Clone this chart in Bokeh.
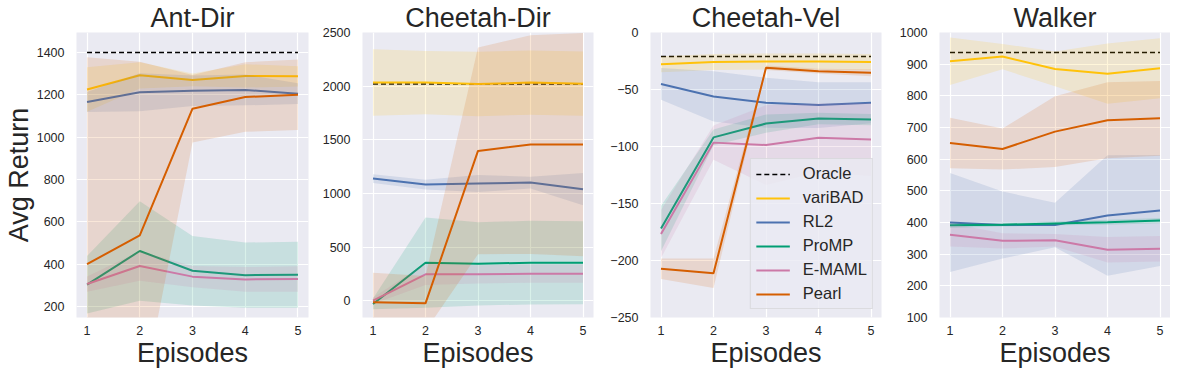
import numpy as np
from bokeh.plotting import figure
from bokeh.models import Range1d, Legend, LegendItem
from bokeh.layouts import row
from bokeh.embed import file_html
from bokeh.resources import INLINE

# ---------------- data ----------------
episodes = [1, 2, 3, 4, 5]
methods = ["variBAD", "RL2", "ProMP", "E-MAML", "Pearl"]

titles = ["Ant-Dir", "Cheetah-Dir", "Cheetah-Vel", "Walker"]

oracle_ant = 1400
oracle_cdir = 2020
oracle_cvel = -21
oracle_walker = 937

ant_varibad = [1225, 1292, 1270, 1289, 1287]
ant_varibad_std = [105, 62, 30, 55, 48]
ant_rl2 = [1166, 1212, 1219, 1223, 1205]
ant_rl2_std = [47, 90, 72, 73, 49]
ant_promp = [303, 462, 369, 348, 350]
ant_promp_std = [136, 235, 164, 154, 156]
ant_emaml = [306, 391, 341, 328, 330]
ant_emaml_std = [36, 70, 50, 58, 60]
ant_pearl = [400, 536, 1134, 1189, 1200]
ant_pearl_std = [977, 820, 159, 164, 167]

cdir_varibad = [2033, 2033, 2020, 2033, 2023]
cdir_varibad_std = [310, 295, 300, 300, 300]
cdir_rl2 = [1138, 1082, 1092, 1101, 1039]
cdir_rl2_std = [40, 45, 80, 55, 150]
cdir_promp = [-31, 354, 344, 354, 354]
cdir_promp_std = [50, 421, 388, 390, 387]
cdir_emaml = [0, 246, 246, 252, 252]
cdir_emaml_std = [30, 100, 85, 85, 85]
cdir_pearl = [-15, -25, 1396, 1455, 1455]
cdir_pearl_std = [276, 256, 963, 1020, 1040]

cvel_varibad = [-27.8, -25.8, -25.5, -25.5, -25.8]
cvel_varibad_std = [7, 7, 7, 7, 7]
cvel_rl2 = [-45.1, -56.1, -61.6, -63.7, -61.6]
cvel_rl2_std = [14, 22, 22, 20, 18]
cvel_promp = [-171.9, -92.0, -79.9, -75.5, -76.4]
cvel_promp_std = [20, 7, 8, 5, 5]
cvel_emaml = [-176.8, -96.6, -98.7, -92.3, -93.8]
cvel_emaml_std = [21, 15, 35, 30, 32]
cvel_pearl = [-207.2, -211.2, -31.0, -33.9, -35.3]
cvel_pearl_std = [9, 13, 2, 2, 3]

walker_varibad = [909, 924, 885, 870, 887]
walker_varibad_std = [75, 40, 55, 95, 95]
walker_rl2 = [400, 392, 392, 422, 438]
walker_rl2_std = [156, 106, 70, 190, 175]
walker_promp = [391, 393, 397, 401, 406]
walker_promp_std = [8, 6, 6, 8, 8]
walker_emaml = [361, 342, 344, 314, 317]
walker_emaml_std = [37, 24, 20, 40, 40]
walker_pearl = [651, 632, 687, 723, 729]
walker_pearl_std = [80, 65, 112, 120, 118]

ant_yticks = [200, 400, 600, 800, 1000, 1200, 1400]
cdir_yticks = [0, 500, 1000, 1500, 2000, 2500]
cvel_yticks = [-250, -200, -150, -100, -50, 0]
walker_yticks = [100, 200, 300, 400, 500, 600, 700, 800, 900, 1000]

ant_yrange = (148, 1494)
cdir_yrange = (-157, 2500)
cvel_yrange = (-250, 0)
walker_yrange = (100, 1000)
x_range = (0.8, 5.2)

# ---------------- style ----------------
colors = {"variBAD": "#FFC20A", "RL2": "#4C72B0", "ProMP": "#009E73",
          "E-MAML": "#CC79A7", "Pearl": "#D55E00"}
FONT = "Liberation Sans"
TXT = "#262626"
BG = "#EAEAF2"
FH = 285

panels = [
    (titles[0], oracle_ant, [ant_varibad, ant_rl2, ant_promp, ant_emaml, ant_pearl],
     [ant_varibad_std, ant_rl2_std, ant_promp_std, ant_emaml_std, ant_pearl_std],
     ant_yticks, ant_yrange, 40, 9, 232),
    (titles[1], oracle_cdir, [cdir_varibad, cdir_rl2, cdir_promp, cdir_emaml, cdir_pearl],
     [cdir_varibad_std, cdir_rl2_std, cdir_promp_std, cdir_emaml_std, cdir_pearl_std],
     cdir_yticks, cdir_yrange, 45, 11, 231),
    (titles[2], oracle_cvel, [cvel_varibad, cvel_rl2, cvel_promp, cvel_emaml, cvel_pearl],
     [cvel_varibad_std, cvel_rl2_std, cvel_promp_std, cvel_emaml_std, cvel_pearl_std],
     cvel_yticks, cvel_yrange, 46, 11, 231),
    (titles[3], oracle_walker, [walker_varibad, walker_rl2, walker_promp, walker_emaml, walker_pearl],
     [walker_varibad_std, walker_rl2_std, walker_promp_std, walker_emaml_std, walker_pearl_std],
     walker_yticks, walker_yrange, 47, 0, 231),
]

figs = []
for i, (title, oracle, means, stds, yticks, yrange, bl, br, fw) in enumerate(panels):
    p = figure(frame_width=fw, frame_height=FH, output_backend="svg", toolbar_location=None,
               x_range=Range1d(*x_range), y_range=Range1d(*yrange),
               min_border_left=bl, min_border_right=br, min_border_top=0,
               min_border_bottom=0, title=title)
    p.title.text_font = FONT
    p.title.text_font_size = "27px"
    p.title.text_font_style = "normal"
    p.title.text_color = TXT
    p.title.align = "center"
    p.title.standoff = 0
    p.background_fill_color = BG
    p.border_fill_color = "white"
    p.outline_line_color = None
    for ax in (p.xaxis, p.yaxis):
        ax.axis_line_color = None
        ax.major_tick_line_color = None
        ax.minor_tick_line_color = None
        ax.major_tick_in = 0
        ax.major_tick_out = 0
        ax.major_label_text_font = FONT
        ax.major_label_text_font_size = "12.5px"
        ax.major_label_text_color = TXT
        ax.axis_label_text_font = FONT
        ax.axis_label_text_font_size = "27px"
        ax.axis_label_text_font_style = "normal"
        ax.axis_label_text_color = TXT
    p.xaxis.ticker = episodes
    p.yaxis.ticker = yticks
    p.xaxis.major_label_standoff = 8
    p.yaxis.major_label_standoff = 12
    p.yaxis.major_label_overrides = {t: (str(t).replace("-", "\u2212")) for t in yticks}
    p.xaxis.axis_label = "Episodes"
    p.xaxis.axis_label_standoff = 0
    if i == 0:
        p.yaxis.axis_label = "Avg Return"
        p.yaxis.axis_label_standoff = 0
    p.xgrid.grid_line_color = "white"
    p.ygrid.grid_line_color = "white"
    p.xgrid.grid_line_width = 1.2
    p.ygrid.grid_line_width = 1.2

    r_or = p.line(episodes, [oracle] * len(episodes), line_color="black",
                  line_dash="5 3", line_width=1.5)
    rends = {}
    for m, mean, sd in zip(methods, means, stds):
        mean = np.array(mean, dtype=float)
        sd = np.array(sd, dtype=float)
        p.varea(x=episodes, y1=mean - sd, y2=mean + sd, fill_color=colors[m], fill_alpha=0.15)
        rends[m] = p.line(episodes, mean, line_color=colors[m], line_width=2)

    if i == 2:
        items = [LegendItem(label="Oracle", renderers=[r_or])] + \
                [LegendItem(label=m, renderers=[rends[m]]) for m in methods]
        leg = Legend(items=items, location="bottom_right")
        leg.label_text_font = FONT
        leg.label_text_font_size = "16.5px"
        leg.label_text_color = TXT
        leg.glyph_width = 34
        leg.glyph_height = 18
        leg.label_height = 18
        leg.spacing = 5
        leg.padding = 5
        leg.label_standoff = 13
        leg.margin = 8
        leg.background_fill_color = BG
        leg.background_fill_alpha = 0.8
        leg.border_line_color = "#CCCCCC"
        leg.border_line_width = 1
        p.add_layout(leg)
    figs.append(p)

layout = row(*figs)
open("out.html", "w").write(file_html(layout, INLINE))
